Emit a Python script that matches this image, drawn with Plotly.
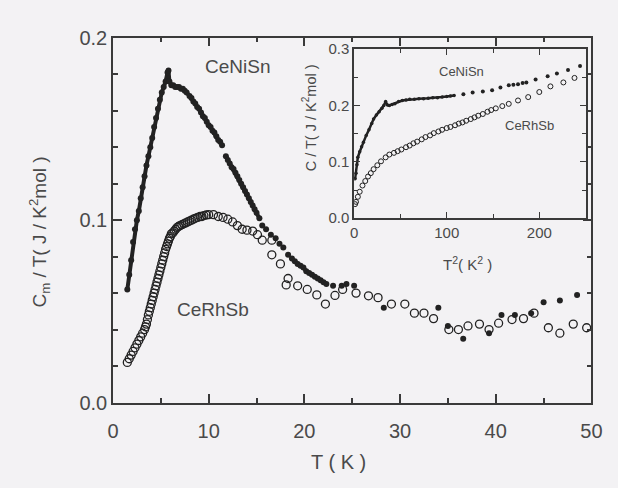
import plotly.graph_objects as go

# ---- main panel data: Cm/T vs T ----
# dense (quasi-continuous) part of CeNiSn
nisn_T = [1.5, 1.7, 1.9, 2.1, 2.3, 2.5, 2.7, 2.9, 3.1, 3.3, 3.5, 3.7, 3.9, 4.1, 4.3, 4.5, 4.7, 4.9,
          5.1, 5.3, 5.5, 5.7, 5.8, 5.9, 6.1, 6.3, 6.5, 6.7, 6.9, 7.1, 7.3, 7.5, 7.7, 8.0, 8.2, 8.4,
          8.6, 8.8, 9.0, 9.2, 9.4, 9.6, 9.8, 10.0, 10.2, 10.4, 10.6, 10.8, 11.0, 11.2, 11.4]
nisn_C = [0.062, 0.070, 0.078, 0.088, 0.095, 0.100, 0.105, 0.112, 0.118, 0.124, 0.130, 0.135, 0.140,
          0.145, 0.151, 0.156, 0.161, 0.166, 0.170, 0.173, 0.176, 0.181, 0.182, 0.176, 0.174, 0.174,
          0.173, 0.173, 0.173, 0.172, 0.172, 0.171, 0.170, 0.168, 0.167, 0.165, 0.164, 0.162, 0.161,
          0.159, 0.157, 0.156, 0.154, 0.152, 0.151, 0.149, 0.148, 0.146, 0.144, 0.143, 0.141]
nisn2_T = [11.8, 12.0, 12.2, 12.4, 12.6, 12.8, 13.0, 13.2, 13.4, 13.6, 13.8, 14.0, 14.2, 14.4,
           14.6, 14.8, 15.0, 15.3]
nisn2_C = [0.135, 0.133, 0.131, 0.129, 0.128, 0.126, 0.124, 0.122, 0.120, 0.118, 0.116, 0.114, 0.112,
           0.110, 0.108, 0.106, 0.104, 0.101]
nisn3_T = [19.0, 19.3, 19.6, 19.9, 20.2, 20.5, 20.8, 21.1, 21.4, 21.7, 22.0, 22.3]
nisn3_C = [0.0775, 0.076, 0.075, 0.074, 0.072, 0.071, 0.070, 0.069, 0.068, 0.067, 0.066, 0.065]
# sparse part of CeNiSn
nisn4_T = [15.6, 16.0, 16.5, 17.0, 17.4, 17.8, 18.3, 18.7, 23.0, 23.9, 24.4, 25.2,
           28.3, 34.0, 35.0, 36.6, 39.3, 40.6, 42.0, 43.7, 45.0, 46.7, 48.5]
nisn4_C = [0.097, 0.095, 0.092, 0.090, 0.087, 0.085, 0.081, 0.079, 0.064, 0.064, 0.065, 0.064,
           0.052, 0.052, 0.042, 0.035, 0.038, 0.048, 0.048, 0.049, 0.055, 0.056, 0.059]

rhsb_T = [1.5, 1.7, 1.9, 2.1, 2.3, 2.5, 2.7, 2.9, 3.1, 3.3, 3.4, 3.5, 3.6, 3.7, 3.8, 3.9, 4.0,
          4.1, 4.2, 4.3, 4.4, 4.5, 4.6, 4.7, 4.8, 4.9, 5.0, 5.1, 5.2, 5.3, 5.4, 5.5, 5.6, 5.7, 5.8,
          5.9, 6.0, 6.1, 6.25, 6.4, 6.55, 6.7, 6.85, 7.0, 7.2, 7.4, 7.6, 7.8, 8.0, 8.2, 8.4, 8.6,
          8.85, 9.1, 9.3, 9.5, 9.75, 10.0, 10.5,
          11.0, 11.5, 12.0, 12.5, 13.0, 13.5, 14.0, 14.6, 15.1, 15.6, 16.6, 16.6, 17.5, 18.3,
          18.1, 19.3, 20.3, 21.3, 22.2, 23.2, 24.0, 25.4, 26.7, 27.7, 29.1, 30.5, 31.5, 32.5,
          33.5, 35.1, 36.1, 37.1, 38.3, 39.3, 40.3, 41.7, 42.9, 44.0, 45.5, 46.7, 48.1, 49.5]
rhsb_C = [0.022, 0.024, 0.026, 0.028, 0.030, 0.032, 0.034, 0.036, 0.038, 0.040, 0.0415, 0.043,
          0.0455, 0.048, 0.050, 0.052, 0.054, 0.056, 0.058, 0.060, 0.062, 0.064, 0.066, 0.068,
          0.070, 0.072, 0.074, 0.076, 0.078, 0.080, 0.082, 0.084, 0.0855, 0.087, 0.0885, 0.090,
          0.091, 0.0925, 0.093, 0.094, 0.095, 0.096, 0.0965, 0.097, 0.0975, 0.098, 0.0985, 0.099,
          0.0995, 0.100, 0.1005, 0.101, 0.1015, 0.102, 0.102, 0.1025, 0.1028, 0.103, 0.103,
          0.102, 0.1015, 0.1005,
          0.099, 0.097, 0.095, 0.0945, 0.094, 0.092, 0.089, 0.089, 0.081, 0.076, 0.068, 0.0645,
          0.064, 0.062, 0.059, 0.054, 0.0587, 0.062, 0.060, 0.0585, 0.0575, 0.054, 0.054, 0.049,
          0.049, 0.046, 0.040, 0.040, 0.042, 0.043, 0.040, 0.0435, 0.0455, 0.046, 0.049, 0.041,
          0.038, 0.043, 0.041]

# ---- inset data: C/T vs T^2 ----
in_nisn_T2 = [1, 2, 3, 4, 6, 8, 10, 13, 16, 19, 21, 24, 27, 30, 32, 34, 36, 38, 41, 44, 48, 52, 56,
              60, 65, 70, 75, 80, 85, 90, 95, 100, 104, 108]
in_nisn_C = [0.070, 0.080, 0.095, 0.108, 0.118, 0.127, 0.135, 0.147, 0.157, 0.168, 0.176, 0.183,
             0.189, 0.195, 0.200, 0.207, 0.201, 0.200, 0.202, 0.203, 0.207, 0.209, 0.210, 0.211,
             0.211, 0.212, 0.212, 0.213, 0.214, 0.214, 0.215, 0.216, 0.217, 0.218]
in_nisn2_T2 = [118, 128, 139, 149, 158, 167, 172, 177, 182, 186, 196, 209, 219, 231, 244]
in_nisn2_C = [0.220, 0.223, 0.225, 0.227, 0.232, 0.236, 0.237, 0.238, 0.240, 0.241, 0.246, 0.252,
              0.257, 0.263, 0.270]

in_rhsb_T2 = [1, 2, 4, 6, 9, 12, 15, 18, 21, 25, 29, 34, 38, 43, 47, 51, 56, 60, 64, 68, 73, 77, 82,
              86, 91, 95, 100, 104, 109, 113, 117, 121, 126, 130, 134, 139, 144, 148, 153, 160,
              167, 177, 188, 200, 212, 226, 238]
in_rhsb_C = [0.025, 0.029, 0.038, 0.047, 0.058, 0.066, 0.074, 0.080, 0.087, 0.094, 0.101, 0.108,
             0.113, 0.116, 0.119, 0.122, 0.126, 0.129, 0.133, 0.136, 0.140, 0.144, 0.147, 0.151,
             0.154, 0.157, 0.160, 0.162, 0.165, 0.168, 0.170, 0.173, 0.176, 0.179, 0.182, 0.185,
             0.189, 0.192, 0.195, 0.199, 0.203, 0.209, 0.215, 0.224, 0.234, 0.241, 0.249]

main_xticks = [0, 10, 20, 30, 40, 50]
main_yticks = [0.0, 0.1, 0.2]
inset_xticks = [0, 100, 200]
inset_yticks = [0.0, 0.1, 0.2, 0.3]

BG = "#f3f2f4"
INK = "#222222"
TXT = "#4a4a4a"
LINE = "#3a3a3a"
FONT = "Liberation Sans, Arial, sans-serif"

fig = go.Figure()


def dense(x, y, xa, ya, size, width):
    fig.add_trace(go.Scatter(x=x, y=y, mode="lines+markers", xaxis=xa, yaxis=ya,
                             line=dict(color=INK, width=width),
                             marker=dict(size=size, color=INK), showlegend=False))


dense(nisn_T, nisn_C, "x", "y", 6, 4)
dense(nisn2_T, nisn2_C, "x", "y", 6, 4)
dense(nisn3_T, nisn3_C, "x", "y", 6, 4)
fig.add_trace(go.Scatter(x=nisn4_T, y=nisn4_C, mode="markers", xaxis="x", yaxis="y",
                         marker=dict(size=6, color=INK), showlegend=False))
fig.add_trace(go.Scatter(x=rhsb_T, y=rhsb_C, mode="markers", xaxis="x", yaxis="y",
                         marker=dict(size=8, color=INK, symbol="circle-open",
                                     line=dict(color=INK, width=1.3)), showlegend=False))
dense(in_nisn_T2, in_nisn_C, "x2", "y2", 3.5, 2.5)
fig.add_trace(go.Scatter(x=in_nisn2_T2, y=in_nisn2_C, mode="markers", xaxis="x2", yaxis="y2",
                         marker=dict(size=4, color=INK), showlegend=False))
fig.add_trace(go.Scatter(x=in_rhsb_T2, y=in_rhsb_C, mode="markers", xaxis="x2", yaxis="y2",
                         marker=dict(size=5, color=INK, symbol="circle-open",
                                     line=dict(color=INK, width=1)), showlegend=False))

axis_common = dict(showline=True, linecolor=LINE, linewidth=1.5, mirror="ticks",
                   showgrid=False, zeroline=False, ticks="inside", tickcolor=LINE)

fig.update_layout(
    width=618, height=488,
    margin=dict(l=0, r=0, t=0, b=0),
    paper_bgcolor=BG, plot_bgcolor=BG,
    font=dict(family=FONT, color=TXT),
    xaxis=dict(domain=[110/618, 602/618], range=[0, 50], tickvals=main_xticks,
               ticklen=9, tickwidth=1.5, tickfont=dict(size=20, color=TXT),
               ticklabelstandoff=10,
               minor=dict(dtick=5, ticks="inside", ticklen=5, tickcolor=LINE),
               anchor="y", **axis_common),
    yaxis=dict(domain=[(488-410)/488, (488-28)/488], range=[0, 0.2], tickvals=main_yticks,
               tickformat=".1f", ticklen=9, tickwidth=1.5, tickfont=dict(size=20, color=TXT),
               minor=dict(dtick=0.02, ticks="inside", ticklen=5, tickcolor=LINE),
               anchor="x", **axis_common),
    xaxis2=dict(domain=[358/618, 596/618], range=[0, 250], tickvals=inset_xticks,
                ticklen=6, tickwidth=1.2, tickfont=dict(size=15, color=TXT),
                minor=dict(dtick=50, ticks="inside", ticklen=4, tickcolor=LINE),
                anchor="y2", **axis_common),
    yaxis2=dict(domain=[(488-217)/488, (488-40)/488], range=[0, 0.3], tickvals=inset_yticks,
                tickformat=".1f", ticklen=6, tickwidth=1.2, tickfont=dict(size=15, color=TXT),
                minor=dict(dtick=0.05, ticks="inside", ticklen=4, tickcolor=LINE),
                anchor="x2", **axis_common),
)

ann = [
    dict(text="CeNiSn", x=238, y=58, size=19),
    dict(text="CeRhSb", x=213, y=313, size=19),
    dict(text="CeNiSn", x=468, y=63, size=13),
    dict(text="CeRhSb", x=538, y=120, size=13),
    dict(text="T ( K )", x=342, y=472, size=20),
    dict(text="T<sup>2</sup>( K<sup>2</sup> )", x=475, y=264, size=15),
]
for a in ann:
    fig.add_annotation(text=a["text"], x=a["x"]/618, y=1-a["y"]/488, xref="paper", yref="paper",
                       showarrow=False, xanchor="center", yanchor="middle",
                       font=dict(size=a["size"], color=TXT, family=FONT))
fig.add_annotation(text="C<sub>m</sub> / T( J / K<sup>2</sup>mol )", x=35/618, y=1-232/488,
                   xref="paper", yref="paper", showarrow=False, textangle=-90,
                   xanchor="center", yanchor="middle", font=dict(size=19, color=TXT, family=FONT))
fig.add_annotation(text="C / T( J / K<sup>2</sup>mol )", x=312/618, y=1-112/488,
                   xref="paper", yref="paper", showarrow=False, textangle=-90,
                   xanchor="center", yanchor="middle", font=dict(size=14.5, color=TXT, family=FONT))

fig.write_html("out.html")
